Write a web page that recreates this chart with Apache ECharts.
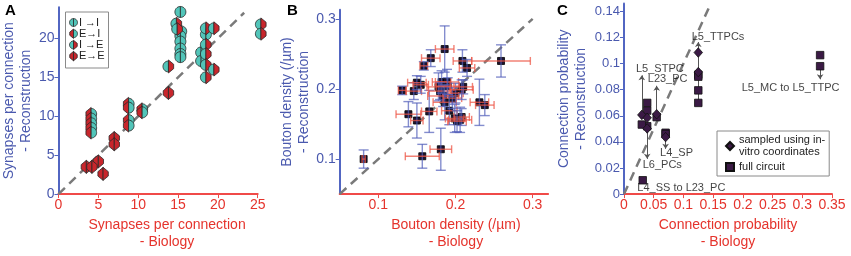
<!DOCTYPE html>
<html>
<head>
<meta charset="utf-8">
<script src="https://cdn.jsdelivr.net/npm/echarts@6/dist/echarts.min.js"></script>
<style>
html, body { margin: 0; padding: 0; background: #fff; }
#chart { width: 851px; height: 256px; }
</style>
</head>
<body>
<div id="chart"></div>
<script>
// ---- panel A: synapses per connection, [biology, reconstruction]
const synII = [[15.3, 23.4], [15.4, 20.9], [15.3, 20.3], [15.3, 19.6], [15.3, 18.7], [15.3, 18.0], [15.3, 17.6], [18.5, 20.5], [17.9, 18.2], [17.9, 17.1]];
const synEI = [[4.1, 10.3], [4.1, 9.7], [4.1, 9.1], [4.1, 8.5], [4.1, 7.9], [8.8, 11.6], [8.8, 11.1], [8.8, 9.5], [8.8, 8.8], [10.5, 10.9], [10.5, 10.5]];
const synIE = [[14.8, 21.9], [14.9, 21.2], [13.8, 16.4], [18.5, 21.3], [19.5, 21.3], [18.5, 19.2], [18.5, 18.0], [18.5, 16.6], [19.5, 16.0], [18.5, 15.0], [25.4, 21.8], [25.4, 20.6]];
const synEE = [[13.8, 13.0], [7.0, 7.2], [7.0, 6.4], [5.0, 4.2], [3.5, 3.5], [4.2, 3.5], [5.6, 2.6]];
const synLegend = ['I →I', 'E→I', 'I →E', 'E→E'];
const synTicksX = [0, 5, 10, 15, 20, 25];
const synTicksY = [0, 5, 10, 15, 20];
const diagA = [[0, 0], [23.3, 23.3]];

// ---- panel B: bouton density (/um)
const boutonBio = [0.081, 0.157, 0.181, 0.139, 0.150, 0.166, 0.131, 0.146, 0.150, 0.155, 0.159, 0.168, 0.186, 0.209, 0.215, 0.259, 0.231, 0.238,
  0.178, 0.182, 0.189, 0.180, 0.184, 0.186, 0.196, 0.192, 0.200, 0.208, 0.210, 0.199, 0.206, 0.208, 0.190, 0.202];
const boutonRec = [0.100, 0.104, 0.114, 0.164, 0.155, 0.168, 0.198, 0.197, 0.209, 0.206, 0.233, 0.244, 0.257, 0.240, 0.230, 0.240, 0.181, 0.177,
  0.203, 0.210, 0.210, 0.197, 0.190, 0.181, 0.187, 0.169, 0.194, 0.199, 0.203, 0.158, 0.156, 0.160, 0.204, 0.154];
const boutonBioErr = [0.002, 0.022, 0.014, 0.016, 0.008, 0.010, 0.005, 0.010, 0.012, 0.010, 0.005, 0.012, 0.012, 0.012, 0.010, 0.038, 0.012, 0.012,
  0.015, 0.012, 0.015, 0.015, 0.020, 0.015, 0.012, 0.010, 0.010, 0.015, 0.012, 0.012, 0.015, 0.010, 0.015, 0.012];
const boutonRecErr = [0.013, 0.017, 0.030, 0.018, 0.025, 0.030, 0.006, 0.012, 0.010, 0.012, 0.006, 0.012, 0.033, 0.016, 0.012, 0.023, 0.033, 0.015,
  0.020, 0.016, 0.018, 0.012, 0.015, 0.025, 0.015, 0.020, 0.014, 0.014, 0.010, 0.020, 0.018, 0.012, 0.012, 0.015];
const boutonTicks = [0.1, 0.2, 0.3];
const diagB = [[0.05, 0.05], [0.3, 0.3]];

// ---- panel C: connection probability
const probSampled = [[0.125, 0.1085], [0.125, 0.0935], [0.030, 0.0607], [0.039, 0.0585], [0.039, 0.0503], [0.055, 0.0612], [0.070, 0.0437]];
const probFull = [[0.125, 0.0915], [0.125, 0.0900], [0.125, 0.0795], [0.125, 0.0699], [0.039, 0.0699], [0.039, 0.0640], [0.039, 0.0520],
  [0.030, 0.0533], [0.055, 0.0590], [0.070, 0.0470], [0.070, 0.0460], [0.0315, 0.0106], [0.330, 0.1065], [0.330, 0.0980]];
const arrowX = [0.030, 0.055, 0.125, 0.039, 0.070, 0.330];
const arrowFrom = [0.0607, 0.0612, 0.0699, 0.0503, 0.0437, 0.0980];
const arrowTo = [0.091, 0.083, 0.1165, 0.027, 0.0347, 0.088];
const pathwayNames = ['L5_TTPCs', 'L5_STPC', 'L23_PC', 'L5_MC to L5_TTPC', 'L4_SP', 'L6_PCs', 'L4_SS to L23_PC'];
const pathwayAt = [[0.114, 0.1207], [0.0202, 0.0959], [0.040, 0.088], [0.198, 0.0813], [0.0606, 0.0317], [0.0315, 0.0223], [0.0224, 0.005]];
const probTicksX = [0, 0.05, 0.1, 0.15, 0.2, 0.25, 0.3, 0.35];
const probTicksY = [0, 0.02, 0.04, 0.06, 0.08, 0.1, 0.12, 0.14];
const diagC = [[0, 0], [0.144, 0.144]];

const FONT = 'Liberation Sans, Arial, Helvetica, sans-serif';
const BLUE = '#4a59ae';
const BLUE_LINE = '#5266c2';
const RED = '#e5332c';
const RED_LINE = '#f04a48';
const COLOR = { I: '#52c5b9', E: '#c8262c' };

// half marker: I = round half, E = pointed half
function halfShape(kind, side, cx, cy, s) {
  if (kind === 'I') {
    const pts = [];
    for (let i = 0; i <= 14; i++) {
      const a = -Math.PI / 2 + Math.PI * i / 14;
      pts.push([cx + side * 5.5 * s * Math.cos(a), cy + 5.5 * s * Math.sin(a)]);
    }
    return pts;
  }
  return [[cx, cy - 6.5 * s], [cx + side * 5.2 * s, cy - 2.2 * s], [cx + side * 5.2 * s, cy + 2.2 * s], [cx, cy + 6.5 * s]];
}

function marker(pre, post, cx, cy, s) {
  return [
    { type: 'polygon', shape: { points: halfShape(pre, -1, cx, cy, s) }, style: { fill: COLOR[pre], stroke: '#2a2a2a', lineWidth: 0.8 } },
    { type: 'polygon', shape: { points: halfShape(post, 1, cx, cy, s) }, style: { fill: COLOR[post], stroke: '#2a2a2a', lineWidth: 0.8 } }
  ];
}

function synSeries(name, pre, post, data) {
  return {
    type: 'custom',
    name: name,
    xAxisIndex: 0,
    yAxisIndex: 0,
    encode: { x: 0, y: 1 },
    z: 3,
    data: data,
    renderItem: function (params, api) {
      const p = api.coord([api.value(0), api.value(1)]);
      return { type: 'group', children: marker(pre, post, p[0], p[1], 1) };
    }
  };
}

function axis(grid, min, max, ticks, isX, opts) {
  const text = isX ? RED : BLUE;
  const line = isX ? RED_LINE : BLUE_LINE;
  return Object.assign({
    type: 'value',
    gridIndex: grid,
    min: min,
    max: max,
    axisLine: { show: true, onZero: false, lineStyle: { color: line, width: 2 } },
    axisTick: { show: true, length: 4, customValues: ticks, lineStyle: { color: line, width: 1 } },
    axisLabel: { color: text, fontSize: 14, fontFamily: FONT, margin: 4, customValues: ticks },
    splitLine: { show: false },
    nameLocation: 'middle',
    nameTextStyle: { color: text, fontSize: 14, fontFamily: FONT, lineHeight: 17 }
  }, opts);
}

function diagSeries(grid, data) {
  return {
    type: 'line',
    xAxisIndex: grid,
    yAxisIndex: grid,
    data: data,
    showSymbol: false,
    silent: true,
    z: 1,
    lineStyle: { color: '#7a7a7a', width: 2.5, type: [9, 6] }
  };
}

const boutonData = boutonBio.map((x, i) => [x, boutonRec[i], boutonBioErr[i], boutonRecErr[i]]);

// legend box for panel A
const legendTypes = [['I', 'I'], ['E', 'I'], ['I', 'E'], ['E', 'E']];
const legendGraphics = [{
  type: 'rect', shape: { x: 65.5, y: 12, width: 43, height: 56 },
  style: { fill: '#fff', stroke: '#8a8a8a', lineWidth: 1 }, z: 10
}];
legendTypes.forEach((t, i) => {
  const cy = 22.5 + i * 11.2;
  marker(t[0], t[1], 73.5, cy, 0.72).forEach(m => { m.z = 11; legendGraphics.push(m); });
  legendGraphics.push({
    type: 'text', x: 79, y: cy, z: 11,
    style: { text: synLegend[i], fontSize: 11, fontFamily: FONT, fill: '#222', verticalAlign: 'middle' }
  });
});

const letters = [['A', 5, 3], ['B', 287, 3], ['C', 557, 3]].map(l => ({
  type: 'text', x: l[1], y: l[2],
  style: { text: l[0], fontSize: 15, fontWeight: 'bold', fontFamily: FONT, fill: '#000' }
}));

const option = {
  animation: false,
  backgroundColor: '#fff',
  textStyle: { fontFamily: FONT },
  grid: [
    { left: 53.3, top: 7.3, width: 204.4, height: 192 },
    { left: 339.7, top: 9.8, width: 208.4, height: 192.5 },
    { left: 624, top: 3.6, width: 208, height: 196.4 }
  ],
  xAxis: [
    axis(0, 0, 25, synTicksX, true, {
      name: 'Synapses per connection\n- Biology', nameGap: 21,
      nameTextStyle: { color: RED, fontSize: 14, fontFamily: FONT, lineHeight: 17, padding: [0, 0, 0, 18] }
    }),
    axis(1, 0.05, 0.32, boutonTicks, true, {
      name: 'Bouton density (/µm)\n- Biology', nameGap: 20,
      nameTextStyle: { color: RED, fontSize: 14, fontFamily: FONT, lineHeight: 17, padding: [0, 0, 0, 24] }
    }),
    axis(2, 0, 0.35, probTicksX, true, {
      name: 'Connection probability\n- Biology', nameGap: 22
    })
  ],
  yAxis: [
    axis(0, 0, 24, synTicksY, false, { name: 'Synapses per connection\n- Reconstruction', nameGap: 10 }),
    axis(1, 0.05, 0.313, boutonTicks, false, { name: 'Bouton density (/µm)\n- Reconstruction', nameGap: 15 }),
    axis(2, 0, 0.146, probTicksY, false, {
      name: 'Connection probability\n- Reconstruction', nameGap: 34,
      axisLabel: { color: BLUE, fontSize: 13, fontFamily: FONT, margin: 4, customValues: probTicksY }
    })
  ],
  legend: {
    data: ['sampled using in-\nvitro coordinates', 'full circuit'],
    left: 717,
    top: 131,
    orient: 'vertical',
    itemWidth: 8,
    itemHeight: 8,
    itemGap: 3,
    padding: [3, 4, 3, 8],
    borderColor: '#8a8a8a',
    borderWidth: 1,
    backgroundColor: '#fff',
    textStyle: { fontSize: 11, lineHeight: 12, color: '#222', fontFamily: FONT }
  },
  graphic: legendGraphics.concat(letters),
  series: [
    diagSeries(0, diagA),
    synSeries('I→I', 'I', 'I', synII),
    synSeries('E→I', 'E', 'I', synEI),
    synSeries('I→E', 'I', 'E', synIE),
    synSeries('E→E', 'E', 'E', synEE),

    diagSeries(1, diagB),
    {
      type: 'scatter',
      name: 'bouton',
      xAxisIndex: 1,
      yAxisIndex: 1,
      data: boutonData.map(d => [d[0], d[1]]),
      symbol: 'rect',
      symbolSize: 7,
      z: 2,
      itemStyle: { color: '#1d1430', borderColor: '#000', borderWidth: 0.8, opacity: 1 }
    },
    {
      type: 'custom',
      name: 'bouton error',
      xAxisIndex: 1,
      yAxisIndex: 1,
      encode: { x: 0, y: 1 },
      z: 3,
      data: boutonData,
      renderItem: function (params, api) {
        const x = api.value(0), y = api.value(1), ex = api.value(2), ey = api.value(3);
        const yt = api.coord([x, y + ey]), yb = api.coord([x, y - ey]);
        const xl = api.coord([x - ex, y]), xr = api.coord([x + ex, y]);
        const vs = { stroke: 'rgba(80,92,185,0.7)', lineWidth: 1.4 };
        const hs = { stroke: 'rgba(238,88,72,0.75)', lineWidth: 1.4 };
        const cv = 5, ch = 4;
        return {
          type: 'group',
          children: [
            { type: 'line', shape: { x1: yb[0], y1: yb[1], x2: yt[0], y2: yt[1] }, style: vs },
            { type: 'line', shape: { x1: yt[0] - cv, y1: yt[1], x2: yt[0] + cv, y2: yt[1] }, style: vs },
            { type: 'line', shape: { x1: yb[0] - cv, y1: yb[1], x2: yb[0] + cv, y2: yb[1] }, style: vs },
            { type: 'line', shape: { x1: xl[0], y1: xl[1], x2: xr[0], y2: xr[1] }, style: hs },
            { type: 'line', shape: { x1: xl[0], y1: xl[1] - ch, x2: xl[0], y2: xl[1] + ch }, style: hs },
            { type: 'line', shape: { x1: xr[0], y1: xr[1] - ch, x2: xr[0], y2: xr[1] + ch }, style: hs }
          ]
        };
      }
    },

    diagSeries(2, diagC),
    {
      type: 'lines',
      coordinateSystem: 'cartesian2d',
      xAxisIndex: 2,
      yAxisIndex: 2,
      symbol: ['none', 'arrow'],
      symbolSize: 5,
      silent: true,
      z: 2,
      lineStyle: { color: '#555', width: 1, opacity: 1 },
      data: arrowX.map((x, i) => ({ coords: [[x, arrowFrom[i]], [x, arrowTo[i]]] }))
    },
    {
      type: 'scatter',
      name: 'full circuit',
      xAxisIndex: 2,
      yAxisIndex: 2,
      data: probFull,
      symbol: 'rect',
      symbolSize: 7.5,
      z: 3,
      itemStyle: { color: '#3b1a45', borderColor: '#111', borderWidth: 0.8, opacity: 1 }
    },
    {
      type: 'scatter',
      name: 'sampled using in-\nvitro coordinates',
      xAxisIndex: 2,
      yAxisIndex: 2,
      data: probSampled,
      symbol: 'diamond',
      symbolSize: [8.5, 9.5],
      z: 4,
      itemStyle: { color: '#3b1a45', borderColor: '#111', borderWidth: 0.8, opacity: 1 }
    },
    {
      type: 'scatter',
      name: 'pathways',
      xAxisIndex: 2,
      yAxisIndex: 2,
      symbolSize: 0,
      silent: true,
      z: 5,
      data: pathwayAt.map((p, i) => ({ value: p, name: pathwayNames[i] })),
      label: {
        show: true, position: 'right', distance: 0, formatter: '{b}',
        fontSize: 11, fontFamily: FONT, color: '#111', align: 'left', verticalAlign: 'middle'
      }
    }
  ]
};

const chart = echarts.init(document.getElementById('chart'));
chart.setOption(option);
</script>
</body>
</html>
